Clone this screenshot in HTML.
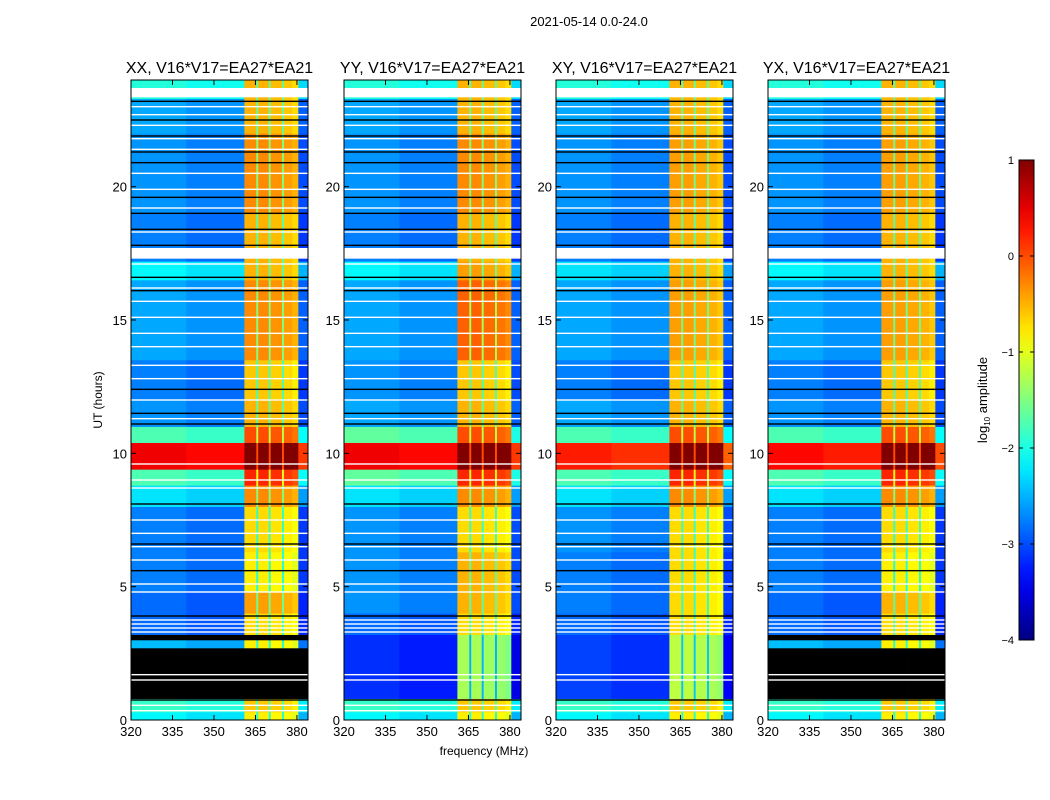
<!DOCTYPE html>
<html><head><meta charset="utf-8">
<style>
body{margin:0;background:#fff;}
svg{display:block;font-family:"Liberation Sans","DejaVu Sans",sans-serif;}
</style></head>
<body>
<svg id="fig" width="1050" height="800" viewBox="0 0 1050 800" xmlns="http://www.w3.org/2000/svg">
<rect width="1050" height="800" fill="#fff"/>
<text x="589" y="26" font-size="13" text-anchor="middle">2021-05-14 0.0-24.0</text>
<text x="484" y="755" font-size="12" text-anchor="middle">frequency (MHz)</text>
<text x="102" y="400" font-size="12" text-anchor="middle" transform="rotate(-90 102 400)">UT (hours)</text>
<g id="panels"></g>
<g id="cbar"></g>
</svg>
<script>
const panelTitles = ["XX, V16*V17=EA27*EA21","YY, V16*V17=EA27*EA21","XY, V16*V17=EA27*EA21","YX, V16*V17=EA27*EA21"];
const xTicks = [320,335,350,365,380];
const yTicks = [0,5,10,15,20];
const cbTicks = [1,0,-1,-2,-3,-4];
// frequency segments [f0,f1,baseValue,class]
const freqSegs = [[320,340,-2.75,'g'],[340,361,-2.85,'g'],[361,365.3,-0.8,'b'],[365.3,366.0,-2.0,'b'],[366.0,369.8,-0.8,'b'],[369.8,370.5,-2.0,'b'],[370.5,374.6,-0.85,'b'],[374.6,375.3,-2.0,'b'],[375.3,378.3,-0.9,'b'],[378.3,380.5,-1.0,'b'],[380.5,384,-3.1,'g']];
// time segments [h0,h1,bgDelta,bandDelta] or [h0,h1,'K']
const rowsXX = [[0,0.3,0.6,0],[0.3,0.8,0.9,0.2],[0.8,2.7,'K'],[2.7,3.0,0.3,0],[3.0,3.2,'K'],[3.2,4.0,-0.1,0.1],[4.0,4.8,-0.1,0.4],[4.8,6.3,0,0],[6.3,8.0,0,0.1],[8.0,8.8,0.5,0.5],[8.8,9.4,1.0,1.0],[9.4,10.4,3.2,2.0],[10.4,11,1.0,0.8],[11,12,0.1,0.3],[12,13.5,0,0.2],[13.5,16.5,0.2,0.5],[16.5,17.2,0.6,0.3],[17.2,19,0,0.3],[19,22,0.1,0.5],[22,23.3,0.2,0.3],[23.3,24,0.8,0.3]];
const rowsYY = [[0,0.3,0.6,0],[0.3,0.8,0.9,0.2],[0.8,3.2,-0.4,-0.5],[3.2,4.0,-0.1,0.1],[4.0,6.3,0.1,0.3],[6.3,8.0,0.1,0.1],[8.0,8.8,0.5,0.5],[8.8,9.4,1.1,1.0],[9.4,10.4,3.2,2.0],[10.4,11,1.1,0.8],[11,12,0.2,0.3],[12,13.5,0.1,0.2],[13.5,16.5,0.2,0.7],[16.5,17.2,0.6,0.4],[17.2,19,0,0.3],[19,22,0.1,0.5],[22,23.3,0.2,0.3],[23.3,24,0.8,0.3]];
const rowsXY = [[0,0.3,0.6,0],[0.3,0.8,0.9,0.2],[0.8,3.2,-0.3,-0.4],[3.2,4.0,-0.1,0.1],[4.0,6.3,0,0.1],[6.3,8.0,0.1,0.1],[8.0,8.8,0.5,0.5],[8.8,9.4,1.0,1.0],[9.4,10.4,3.0,2.0],[10.4,11,1.0,0.8],[11,12,0.2,0.3],[12,13.5,0,0.2],[13.5,16.5,0.2,0.4],[16.5,17.2,0.5,0.3],[17.2,19,0,0.3],[19,22,0.1,0.4],[22,23.3,0.2,0.3],[23.3,24,0.8,0.3]];
const rowsYX = [[0,0.3,0.6,0],[0.3,0.8,0.9,0.2],[0.8,2.7,'K'],[2.7,3.0,0.3,0],[3.0,3.2,'K'],[3.2,4.0,-0.1,0.1],[4.0,4.8,-0.1,0.3],[4.8,6.3,0,0],[6.3,8.0,0,0.1],[8.0,8.8,0.5,0.5],[8.8,9.4,1.0,1.0],[9.4,10.4,3.1,2.0],[10.4,11,1.0,0.8],[11,12,0.1,0.3],[12,13.5,0,0.2],[13.5,16.5,0.2,0.4],[16.5,17.2,0.6,0.3],[17.2,19,0,0.3],[19,22,0.1,0.4],[22,23.3,0.2,0.3],[23.3,24,0.8,0.3]];
// flagged lines (hours)
const whiteLines = [0.35,0.55,1.5,1.7,3.3,3.45,3.6,3.75,4.8,5.1,6.0,6.5,7.0,7.5,8.7,9.0,9.6,11.3,12.0,12.8,13.3,14.0,14.5,15.1,15.7,16.2,17.1,17.5,18.3,19.2,19.9,20.5,21.4,21.8,22.3,22.7,23.0];
const blackLines = [0.75,3.9,5.6,6.6,8.1,11.1,11.5,12.4,16.1,16.6,17.8,18.4,19.0,19.6,20.9,21.3,21.9,22.5,23.2,23.65];
const thickWhite = [[17.3,17.7],[23.35,23.7]];

const panelX = [131,344,556,768], PW=177, PT=80, PB=720;
const allRows=[rowsXX,rowsYY,rowsXY,rowsYX];
const NS="http://www.w3.org/2000/svg";
function mk(t,a,p){const e=document.createElementNS(NS,t);for(const k in a)e.setAttribute(k,a[k]);p.appendChild(e);return e;}
function cl(v){return Math.max(0,Math.min(1,v));}
function jet(v){const t=cl((v+4)/5);const r=cl(1.5-Math.abs(4*t-3)),g=cl(1.5-Math.abs(4*t-2)),b=cl(1.5-Math.abs(4*t-1));return `rgb(${Math.round(r*255)},${Math.round(g*255)},${Math.round(b*255)})`;}
const panels=document.getElementById('panels');
panelX.forEach((x0,pi)=>{
  const g=mk('g',{},panels);
  
  
  const xs=f=>x0+(f-320)/64*PW, ys=h=>PB-h/24*(PB-PT);
  allRows[pi].forEach(r=>{
    freqSegs.forEach(fs=>{
      let fill;
      if(r[2]==='K') fill='#000'; else fill=jet(fs[2]+(fs[3]==='g'?r[2]:r[3]));
      const c=mk('rect',{x:xs(fs[0]).toFixed(2),y:ys(r[1]).toFixed(2),width:(xs(fs[1])-xs(fs[0])+0.3).toFixed(2),height:(ys(r[0])-ys(r[1])+0.3).toFixed(2),fill:fill},g);
      
      
    });
  });
  whiteLines.forEach(h=>{const l=mk('rect',{x:x0,y:ys(h)-0.7,width:PW,height:1.4,fill:'#fff'},g);});
  blackLines.forEach(h=>{const l=mk('rect',{x:x0,y:ys(h)-0.7,width:PW,height:1.4,fill:'#000'},g);});
  thickWhite.forEach(b=>{const l=mk('rect',{x:x0,y:ys(b[1]),width:PW,height:ys(b[0])-ys(b[1]),fill:'#fff'},g);});
  mk('rect',{x:x0,y:PT,width:PW,height:PB-PT,fill:'none',stroke:'#000','stroke-width':1},g);
  const tt=mk('text',{x:x0+PW/2,y:PT-7,'font-size':16,'text-anchor':'middle'},g);tt.textContent=panelTitles[pi];
  
  xTicks.forEach(f=>{const X=xs(f);
    mk('line',{x1:X,x2:X,y1:PB,y2:PB-5,stroke:'#000'},g);mk('line',{x1:X,x2:X,y1:PT,y2:PT+5,stroke:'#000'},g);
    const t=mk('text',{x:X,y:PB+16,'font-size':13,'text-anchor':'middle'},g);t.textContent=f;
    });
  yTicks.forEach(h=>{const Y=ys(h);
    mk('line',{x1:x0,x2:x0+5,y1:Y,y2:Y,stroke:'#000'},g);mk('line',{x1:x0+PW,x2:x0+PW-5,y1:Y,y2:Y,stroke:'#000'},g);
    const t=mk('text',{x:x0-4,y:Y+5,'font-size':13,'text-anchor':'end'},g);t.textContent=h;
    });
});
// colorbar
const cb=document.getElementById('cbar');


const CX=1019,CW=15,CT=160,CB=640;const cy=v=>CB-(v+4)/5*(CB-CT);
const defs=mk('defs',{},cb);const lg=mk('linearGradient',{id:'jg',x1:0,y1:1,x2:0,y2:0},defs);
for(let i=0;i<=20;i++){mk('stop',{offset:i/20,'stop-color':jet(-4+i*5/20)},lg);}
mk('rect',{x:CX,y:CT,width:CW,height:CB-CT,fill:'url(#jg)',stroke:'#000','stroke-width':1},cb);
cbTicks.forEach(v=>{const Y=cy(v);
  mk('line',{x1:CX,x2:CX+4,y1:Y,y2:Y,stroke:'#000'},cb);mk('line',{x1:CX+CW,x2:CX+CW-4,y1:Y,y2:Y,stroke:'#000'},cb);
  const t=mk('text',{x:CX-5,y:Y+4,'font-size':11,'text-anchor':'end'},cb);t.textContent=(v<0?'\u2212'+(-v):v);
  });
const cl2=mk('text',{x:987,y:400,'font-size':13,'text-anchor':'middle',transform:'rotate(-90 987 400)'},cb);

cl2.innerHTML='log<tspan font-size="8" dy="3">10</tspan><tspan dy="-3"> amplitude</tspan>';
</script>
</body></html>
